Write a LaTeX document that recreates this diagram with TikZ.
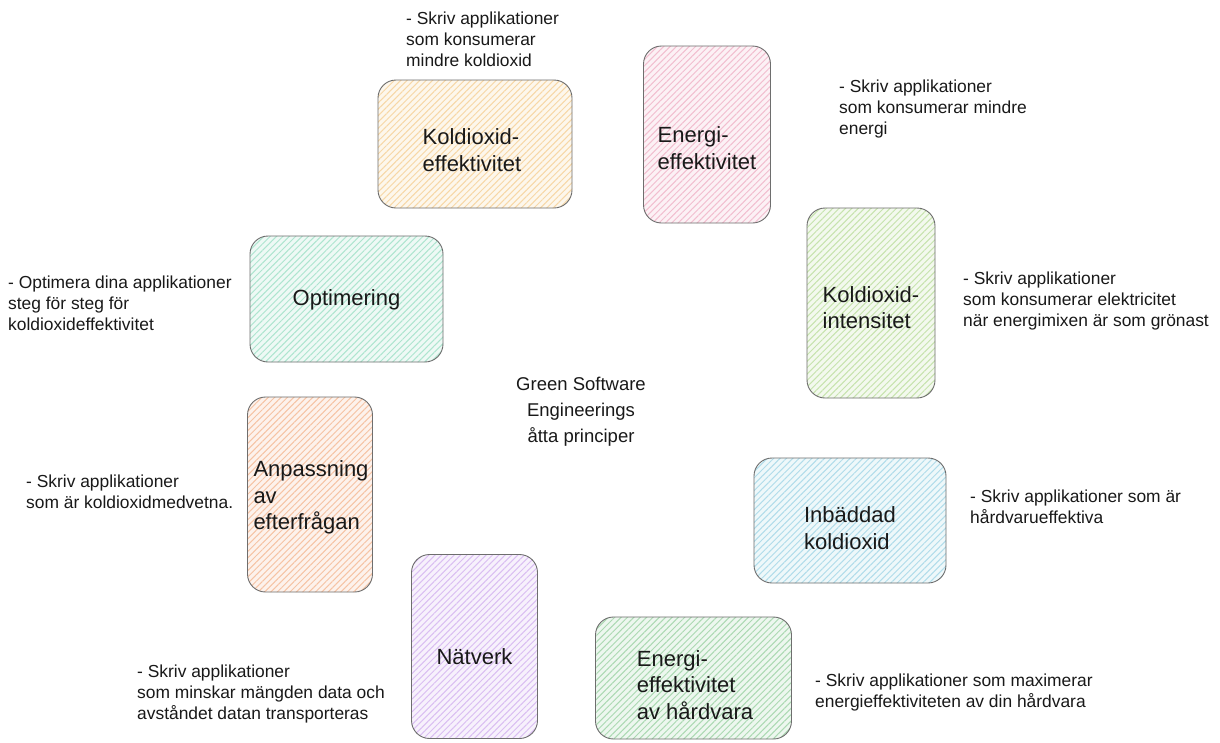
\documentclass[tikz,border=0pt]{standalone}
\usepackage{fontspec}
\setmainfont{Liberation Sans}
\usepackage{xcolor}
\definecolor{gsorange}{RGB}{246, 208, 150}
\definecolor{gspink}{RGB}{240, 178, 198}
\definecolor{gslime}{RGB}{188, 222, 158}
\definecolor{gsmint}{RGB}{158, 224, 198}
\definecolor{gspeach}{RGB}{245, 184, 148}
\definecolor{gsblue}{RGB}{162, 214, 230}
\definecolor{gslilac}{RGB}{212, 178, 240}
\definecolor{gsgreen}{RGB}{156, 210, 164}
\definecolor{gsgray}{RGB}{110, 110, 110}
\usepackage{tikz}
\usetikzlibrary{patterns.meta}

\tikzset{
  principle/.style={draw=gsgray, line width=0.9pt, rounded corners=18pt,
    inner sep=0pt,
    pattern={Lines[angle=45, distance=4.5pt, line width=1pt]},
    pattern color=#1!85, preaction={fill=#1!18}},
  boxtext/.style={align=left, inner sep=0pt, text=black!90,
    font=\fontsize{22}{26.5}\selectfont},
  note/.style={anchor=north west, inner sep=0pt, align=left, text=black!90,
    font=\fontsize{17.4}{20.6}\selectfont}
}

\begin{document}
\begin{tikzpicture}[x=1pt, y=-1pt]
      \fill[white] (0,0) rectangle (1220,742);
      \useasboundingbox (0,0) rectangle (1220,742);

      % the eight principles
      \node[principle=gsorange, minimum width=194, minimum height=128]
            (koleff) at (475,144) {};
      \node[principle=gspink, minimum width=127, minimum height=177]
            (eneff) at (707,134.5) {};
      \node[principle=gslime, minimum width=128, minimum height=190]
            (kolint) at (871,303) {};
      \node[principle=gsmint, minimum width=193, minimum height=126]
            (optim) at (346.5,299) {};
      \node[principle=gspeach, minimum width=125, minimum height=195]
            (anpass) at (310,494.5) {};
      \node[principle=gsblue, minimum width=192, minimum height=125]
            (inbadd) at (850,520.5) {};
      \node[principle=gslilac, minimum width=126, minimum height=184]
            (natverk) at (474.5,646.5) {};
      \node[principle=gsgreen, minimum width=196, minimum height=122]
            (hardv) at (693.5,678) {};

      \node[boxtext] (koleff-text) at (472,150) {Koldioxid-\\effektivitet};
      \node[boxtext] (eneff-text) at (707,148) {Energi-\\effektivitet};
      \node[boxtext] (kolint-text) at (871,307.5) {Koldioxid-\\intensitet};
      \node[boxtext] (optim-text) at (346.5,300) {Optimering};
      \node[boxtext] (anpass-text) at (311,497.5) {Anpassning\\av\\efterfrågan};
      \node[boxtext] (inbadd-text) at (850,528) {Inbäddad\\koldioxid};
      \node[boxtext] (natverk-text) at (474.5,656.5) {Nätverk};
      \node[boxtext] (hardv-text) at (695,685) {Energi-\\effektivitet\\av hårdvara};

      \node[align=center, text=black!90, font=\fontsize{18.5}{26}\selectfont]
            (title) at (581,412) {Green Software\\Engineerings\\åtta principer};

      % descriptions
      \node[note] (koleffnote) at (406,12)
            {- Skriv applikationer\\som konsumerar\\mindre koldioxid};
      \node[note] (eneffnote) at (839,80)
            {- Skriv applikationer\\som konsumerar mindre\\energi};
      \node[note] (kolintnote) at (963,272)
            {- Skriv applikationer\\som konsumerar elektricitet\\när energimixen är som grönast};
      \node[note] (optimnote) at (8,276)
            {- Optimera dina applikationer\\steg för steg för\\koldioxideffektivitet};
      \node[note] (anpassnote) at (26,475)
            {- Skriv applikationer\\som är koldioxidmedvetna.};
      \node[note] (inbaddnote) at (970,490)
            {- Skriv applikationer som är\\hårdvarueffektiva};
      \node[note] (natverknote) at (137,665)
            {- Skriv applikationer\\som minskar mängden data och\\avståndet datan transporteras};
      \node[note] (hardvnote) at (815,674)
            {- Skriv applikationer som maximerar\\energieffektiviteten av din hårdvara};
\end{tikzpicture}
\end{document}
